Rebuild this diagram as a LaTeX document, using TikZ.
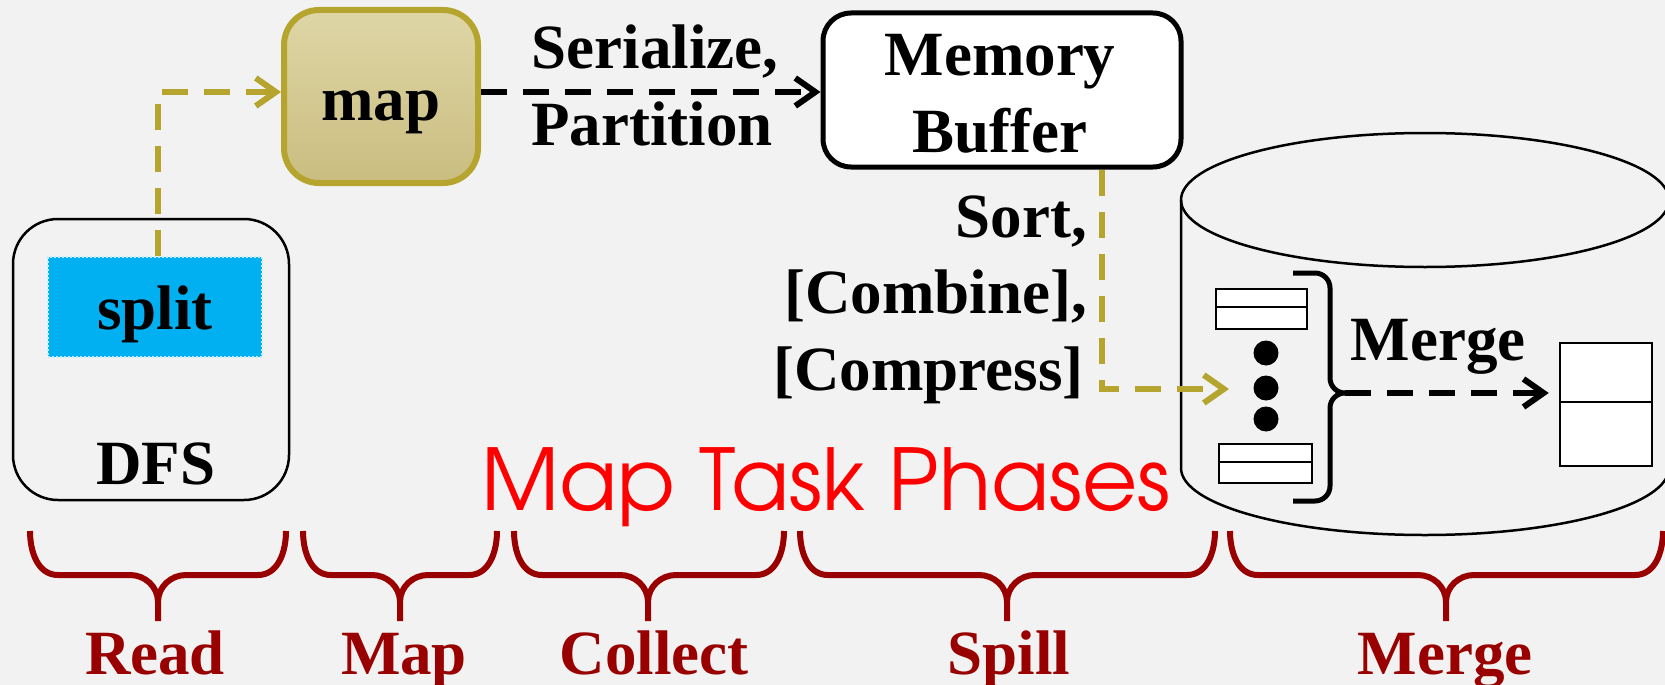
\documentclass[tikz,border=0pt]{standalone}
\usepackage{graphicx}
\usepackage{fontspec}
\setmainfont{Liberation Serif}
\newfontfamily\phasefont{texgyreadventor-regular.otf}
\usetikzlibrary{arrows.meta}

\definecolor{bg}{HTML}{F2F2F2}
\definecolor{olive}{HTML}{B5A42E}
\definecolor{mapTop}{HTML}{DED6A6}
\definecolor{mapBot}{HTML}{CABD80}
\definecolor{splitblue}{HTML}{00B0F0}
\definecolor{splitedge}{HTML}{C4ECFB}
\definecolor{phasered}{HTML}{990000}
\definecolor{titlered}{HTML}{FF0000}

% curly brace opening downwards: left x, right x, tip x
\newcommand\phasebrace[3]{%
  \draw[phasebr]
    (#1,531) to[out=-90,in=180] (#1+28,575) -- (#3-28,575)
      to[out=0,in=90] (#3,602) -- (#3,621)
    (#2,531) to[out=-90,in=0] (#2-28,575) -- (#3+28,575)
      to[out=180,in=90] (#3,602) -- (#3,621);}

\begin{document}
\begin{tikzpicture}[x=1pt,y=-1pt,
  lbl/.style={font=\fontsize{63}{76}\selectfont\bfseries, inner sep=0pt, anchor=base},
  phaselbl/.style={lbl, text=phasered},
  flow/.style={line width=6pt, dash pattern=on 26pt off 16pt,
    -{Straight Barb[length=20pt,width=28pt]}},
  oliveflow/.style={flow, draw=olive},
  blackflow/.style={flow, draw=black},
  phasebr/.style={draw=phasered, line width=6pt},
  thin/.style={line width=2.5pt},
]
\useasboundingbox (0,0) rectangle (1665,685);
\fill[bg] (0,0) rectangle (1665,685);
\clip (0,0) rectangle (1665,685);

% DFS with its split
\node[draw, thin, rounded corners=45pt, minimum width=276pt, minimum height=281pt, inner sep=0pt] (dfs) at (151,359.5) {};
\node[fill=splitblue, draw=splitedge, dotted, line width=2pt, minimum width=214pt, minimum height=100pt, inner sep=0pt] (split) at (155,307) {};
\node[lbl] (splittxt) at (155,329) {split};
\node[lbl] (dfstxt) at (156,484) {DFS};

% map function
\node[draw=olive, line width=6pt, rounded corners=35pt, top color=mapTop, bottom color=mapBot, minimum width=194pt, minimum height=173pt, inner sep=0pt] (map) at (381,96.5) {};
\node[lbl] (maptxt) at (381,120) {map};

% memory buffer
\node[draw, fill=white, line width=5pt, rounded corners=28pt, minimum width=358pt, minimum height=154pt, inner sep=0pt] (mem) at (1002,90) {};
\node[lbl] (memtxt1) at (1000,75) {Memory};
\node[lbl] (memtxt2) at (1000,152) {Buffer};

% collect labels
\node[lbl] (ser) at (655,68) {Serialize,};
\node[lbl] (part) at (652,145) {Partition};

% spill labels
\node[lbl, anchor=base east] (sort) at (1087,237) {Sort,};
\node[lbl, anchor=base east] (comb) at (1087,313) {[Combine],};
\node[lbl, anchor=base east] (comp) at (1084,390) {[Compress]};

% disk
\draw[thin] (1425,200) ellipse[x radius=244, y radius=67];
\draw[thin] (1181,200) -- (1181,468) arc[start angle=180, end angle=0, x radius=244, y radius=67] -- (1669,200);

% spill files on disk
\draw[thin, fill=white] (1216,289) rectangle (1307,329);
\draw[thin] (1216,307) -- (1307,307);
\draw[thin, fill=white] (1219,444) rectangle (1312,483);
\draw[thin] (1219,462) -- (1312,462);
\node[circle, fill=black, minimum size=25pt, inner sep=0pt] (d1) at (1266,353) {};
\node[circle, fill=black, minimum size=25pt, inner sep=0pt] (d2) at (1266,388) {};
\node[circle, fill=black, minimum size=25pt, inner sep=0pt] (d3) at (1266,419) {};

% brace gathering the spill files
\coordinate (bracetip) at (1345,393);
\draw[line width=5pt] (1293,273) -- (1315,273) to[out=0,in=90] (1330,288) -- (1330,378)
  to[out=-90,in=180] (bracetip) to[out=180,in=90] (1330,408) -- (1330,486)
  to[out=-90,in=0] (1315,501) -- (1293,501);

% merged output file
\node[draw, fill=white, thin, minimum width=92pt, minimum height=123pt, inner sep=0pt] (out) at (1606,404.5) {};
\draw[thin] (1560,402) -- (1652,402);
\node[lbl] (mergetxt) at (1438,360) {Merge};

% connectors
\draw[oliveflow] ([xshift=3pt]split.north) |- ([yshift=4.5pt]map.west);
\coordinate (mapout) at ([yshift=4.5pt]map.east);
\draw[blackflow] (mapout) -- (mapout -| mem.west);
\coordinate (spillin) at (1229,389);
\draw[oliveflow] ([xshift=100pt]mem.south) |- (spillin);
\draw[blackflow, shorten >=10pt] (bracetip) -- (bracetip -| out.west);

% title
\node[inner sep=0pt, anchor=base west, text=titlered] (title) at (481,510)
  {\resizebox{689pt}{!}{\phasefont Map Task Phases}};

% phases
\phasebrace{30}{286}{158}
\phasebrace{303}{497}{400}
\phasebrace{514}{784}{648}
\phasebrace{800}{1215}{1007}
\phasebrace{1230}{1663}{1446}
\node[phaselbl] (read) at (155,674) {Read};
\node[phaselbl] (mapph) at (404,674) {Map};
\node[phaselbl] (collect) at (654,674) {Collect};
\node[phaselbl] (spill) at (1009,674) {Spill};
\node[phaselbl] (merge) at (1445,674) {Merge};
\end{tikzpicture}
\end{document}
